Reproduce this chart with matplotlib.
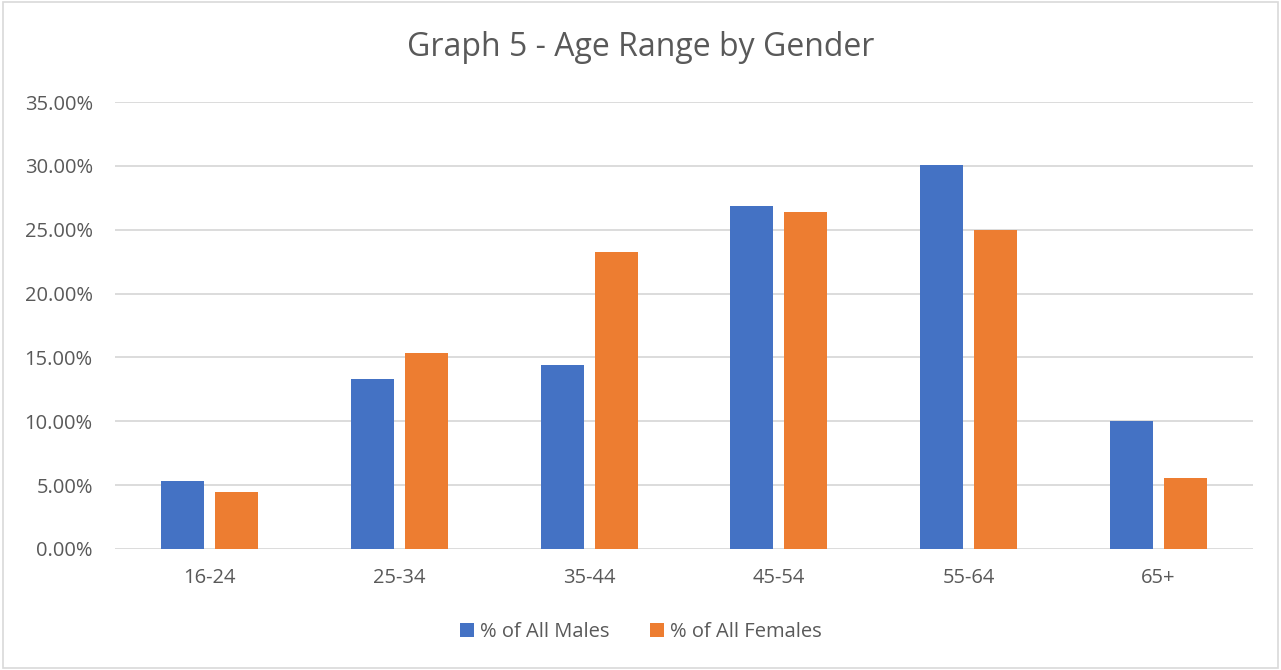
import numpy as np
import matplotlib.pyplot as plt
from matplotlib.ticker import PercentFormatter
from matplotlib.patches import Rectangle

# Age ranges and shares per gender (fractions)
age_ranges = ["16-24", "25-34", "35-44", "45-54", "55-64", "65+"]
males = [0.0531, 0.1330, 0.1440, 0.2684, 0.3006, 0.1001]
females = [0.0445, 0.1534, 0.2325, 0.2637, 0.2498, 0.0554]

blue = "#4472C4"
orange = "#ED7D31"
text_col = "#595959"
grid_col = "#D9D9D9"

plt.rcParams['font.family'] = ['Open Sans', 'DejaVu Sans']

fig = plt.figure(figsize=(12.81, 6.70), dpi=100)
ax = fig.add_axes([115 / 1281, 1 - 549 / 670, (1253 - 115) / 1281, (549 - 102) / 670])

x = np.arange(len(age_ranges))
w = 0.227
off = 0.142
ax.bar(x - off, males, w, color=blue, label="% of All Males", zorder=3)
ax.bar(x + off, females, w, color=orange, label="% of All Females", zorder=3)

ax.set_xlim(-0.5, len(age_ranges) - 0.5)
ax.set_ylim(0, 0.35)
ax.set_yticks(np.arange(0, 0.351, 0.05))
ax.yaxis.set_major_formatter(PercentFormatter(1.0, decimals=2))
ax.set_xticks(x)
ax.set_xticklabels(age_ranges)
ax.grid(axis="y", color=grid_col, linewidth=1.3, zorder=0)
for s in ax.spines.values():
    s.set_visible(False)
ax.tick_params(axis="both", length=0, labelsize=14.5, colors=text_col)
ax.tick_params(axis="y", pad=16)
ax.tick_params(axis="x", pad=14)

fig.text(0.5, 1 - 48 / 670, "Graph 5 - Age Range by Gender", ha="center", va="center",
         fontsize=23, color=text_col)

fig.legend(loc="center", bbox_to_anchor=(0.5, 1 - 632 / 670), ncol=2, frameon=False,
           fontsize=14.5, labelcolor=text_col, handlelength=0.7, handleheight=0.7,
           handletextpad=0.3, columnspacing=2.0)

# outer chart border
fig.patches.append(Rectangle((0.002, 0.003), 0.996, 0.994, transform=fig.transFigure,
                             fill=False, edgecolor="#D9D9D9", linewidth=1.2))

fig.savefig("out.png", dpi=100)
